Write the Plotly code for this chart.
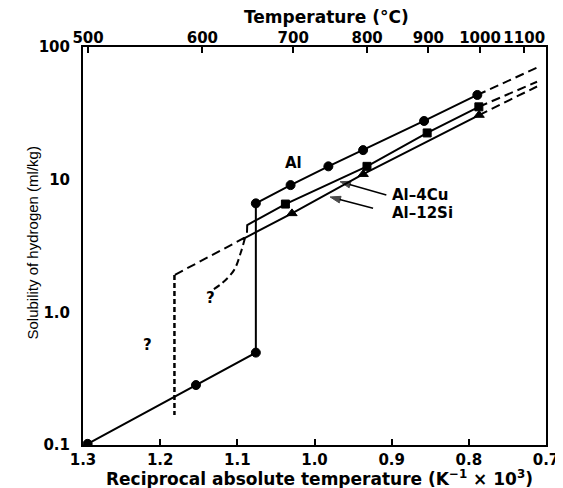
import plotly.graph_objects as go

# ---- data ----
al_x = [1.294, 1.1536, 1.076, 1.076, 1.031, 0.982, 0.937, 0.858, 0.789]
al_y = [0.102, 0.283, 0.497, 6.63, 9.1, 12.6, 16.7, 27.7, 43.5]
al_ext_x = [0.789, 0.709]
al_ext_y = [43.5, 71.0]

cu_x = [1.0875, 1.0872, 1.0377, 0.932, 0.854, 0.787]
cu_y = [3.98, 4.55, 6.55, 12.6, 22.5, 35.4]
cu_ext_x = [0.787, 0.7116]
cu_ext_y = [35.4, 54.7]

si_x = [1.0936, 1.0292, 0.9369, 0.7867]
si_y = [3.55, 5.57, 11.0, 30.7]
si_ext_x = [0.7867, 0.7116]
si_ext_y = [30.7, 50.4]

bound_x = [1.0905, 1.1815, 1.1815]
bound_y = [3.65, 1.91, 0.168]

curve_x = [1.0901, 1.0957, 1.1043, 1.1197, 1.1326]
curve_y = [3.63, 2.80, 2.08, 1.66, 1.47]

# leader lines for the labels (tail -> head)
cu_lead_x = [0.9069, 0.9669]
cu_lead_y = [7.66, 9.66]
si_lead_x = [0.9241, 0.9798]
si_lead_y = [6.08, 7.41]

x_ticks = [1.3, 1.2, 1.1, 1.0, 0.9, 0.8, 0.7]
x_ticklabels = ["1.3", "1.2", "1.1", "1.0", "0.9", "0.8", "0.7"]
y_ticks = [0.1, 1, 10, 100]
y_ticklabels = ["0.1", "1.0", "10", "100"]
temps_c = [500, 600, 700, 800, 900, 1000, 1100]

FONT = "DejaVu Sans"
BLACK = "black"

fig = go.Figure()

def line(x, y, dash="solid", width=2, shape="linear"):
    fig.add_trace(go.Scatter(x=x, y=y, mode="lines", showlegend=False,
                             line=dict(color=BLACK, width=width, dash=dash, shape=shape),
                             hoverinfo="skip"))

# extensions and dashed boundaries
line(al_ext_x, al_ext_y, dash="9px,5px")
line(cu_ext_x, cu_ext_y, dash="9px,5px")
line(si_ext_x, si_ext_y, dash="9px,5px")
line(bound_x[:2], bound_y[:2], dash="9px,5px")
line(bound_x[1:], bound_y[1:], dash="5px,3px", width=2.5)
line(curve_x, curve_y, dash="7px,4px", shape="spline")

mk_line = dict(color=BLACK, width=1)
# Al
fig.add_trace(go.Scatter(x=al_x, y=al_y, mode="lines+markers", showlegend=False,
                         line=dict(color=BLACK, width=2),
                         marker=dict(symbol="circle", size=9, color=BLACK, line=mk_line, opacity=1)))
# Al-4Cu
fig.add_trace(go.Scatter(x=cu_x, y=cu_y, mode="lines+markers", showlegend=False,
                         line=dict(color=BLACK, width=2),
                         marker=dict(symbol="square", size=[0, 0, 8, 8, 8, 8], color=BLACK,
                                     line=mk_line, opacity=1)))
# Al-12Si
fig.add_trace(go.Scatter(x=si_x, y=si_y, mode="lines+markers", showlegend=False,
                         line=dict(color=BLACK, width=2),
                         marker=dict(symbol="triangle-up", size=[0, 9, 9, 9], color=BLACK,
                                     line=mk_line, opacity=1)))

# leader arrows
for lx, ly in [(cu_lead_x, cu_lead_y), (si_lead_x, si_lead_y)]:
    fig.add_trace(go.Scatter(x=lx, y=ly, mode="lines+markers", showlegend=False,
                             hoverinfo="skip", line=dict(color=BLACK, width=1.5),
                             marker=dict(symbol=["circle", "arrow"], size=[0, 11],
                                         angleref="previous", color=BLACK,
                                         line=dict(color=BLACK, width=1))))

# top temperature axis (dummy trace)
fig.add_trace(go.Scatter(x=[1.0], y=[1.0], xaxis="x2", mode="markers",
                         marker=dict(opacity=0), showlegend=False, hoverinfo="skip"))

tickfont = dict(family=FONT, size=15, color=BLACK, weight="bold")

# the page body adds an 8px offset, so the figure is sized to the visible area
fig.update_layout(
    width=555, height=480,
    margin=dict(l=75, r=17, t=39, b=43),
    paper_bgcolor="white", plot_bgcolor="white",
    font=dict(family=FONT, color=BLACK),
    xaxis=dict(range=[1.3, 0.7], tickvals=x_ticks, ticktext=x_ticklabels,
               ticks="inside", ticklen=6, tickwidth=2, tickcolor=BLACK,
               showline=True, linecolor=BLACK, linewidth=2, mirror=True,
               showgrid=False, zeroline=False, automargin=False,
               ticklabelstandoff=0, tickfont=tickfont),
    xaxis2=dict(range=[1.3, 0.7], overlaying="x", side="top",
                tickvals=[1000.0 / (t + 273.15) for t in temps_c],
                ticktext=[str(t) for t in temps_c],
                ticks="inside", ticklen=6, tickwidth=2, tickcolor=BLACK,
                showline=False, showgrid=False, zeroline=False, automargin=False,
                ticklabelstandoff=0, tickfont=tickfont),
    yaxis=dict(type="log", range=[-1, 2], tickvals=y_ticks, ticktext=y_ticklabels,
               ticks="", showline=True, linecolor=BLACK, linewidth=2, mirror=True,
               showgrid=False, zeroline=False, ticklabelstandoff=8, automargin=False,
               tickfont=tickfont),
)

# axis titles
fig.add_annotation(x=0.5, y=0, xref="paper", yref="paper", xshift=5, yshift=-33,
                   yanchor="middle", text="<b>Reciprocal absolute temperature (K<sup>−1</sup> × 10<sup>3</sup>)</b>",
                   showarrow=False, font=dict(family=FONT, size=17, color=BLACK))
fig.add_annotation(x=0.5, y=1, xref="paper", yref="paper", xshift=12, yshift=30,
                   yanchor="middle", text="<b>Temperature (°C)</b>",
                   showarrow=False, font=dict(family=FONT, size=17, color=BLACK))
fig.add_annotation(x=0, y=0.5, xref="paper", yref="paper", xshift=-62, yshift=3,
                   textangle=-90, text="Solubility of hydrogen (ml/kg)",
                   showarrow=False,
                   font=dict(family="Liberation Sans Narrow, Liberation Sans", size=15, color=BLACK))

lab = dict(family=FONT, size=15, color=BLACK, weight="bold")
fig.add_annotation(x=1.027, y=1.123, xref="x", yref="y", text="Al", showarrow=False, font=lab)
fig.add_annotation(x=0.9026, y=0.884, xref="x", yref="y", text="Al–4Cu", showarrow=False,
                   xanchor="left", font=lab)
fig.add_annotation(x=0.9026, y=0.746, xref="x", yref="y", text="Al–12Si", showarrow=False,
                   xanchor="left", font=lab)
qfont = dict(family=FONT, size=15, color=BLACK, weight="bold")
fig.add_annotation(x=1.1343, y=0.105, xref="x", yref="y", text="?", showarrow=False, font=qfont)
fig.add_annotation(x=1.2159, y=-0.246, xref="x", yref="y", text="?", showarrow=False, font=qfont)

fig.write_html("out.html")
